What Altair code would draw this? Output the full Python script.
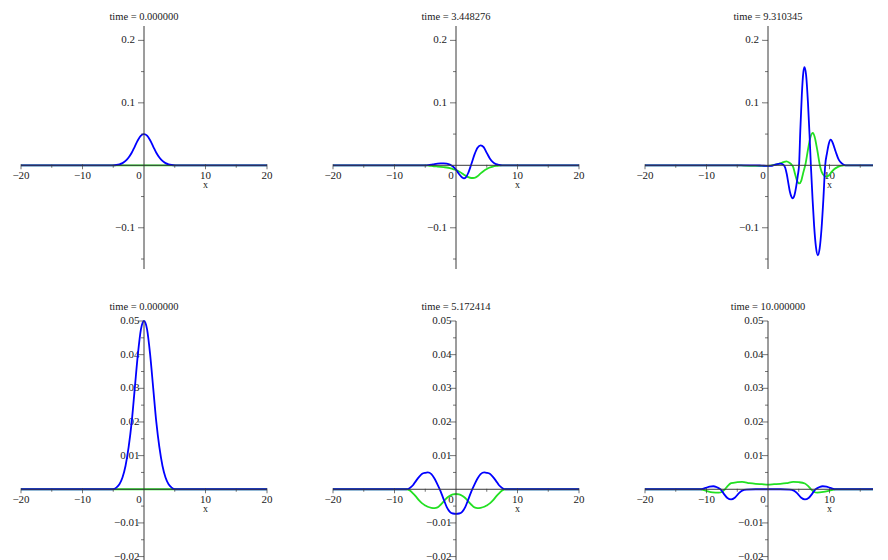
import altair as alt
import pandas as pd

FONT = "Liberation Serif"
BLUE = "#0000ff"
GREEN = "#22e022"
AXIS = "#3a3a3a"
TXT = "#1a1a1a"

titles = ["time = 0.000000", "time = 3.448276", "time = 9.310345",
          "time = 0.000000", "time = 5.172414", "time = 10.000000"]

# ---- t = 0 (panels 1 and 4)
p1_x = [-20, -5, -4.5, -4, -3.5, -3, -2.5, -2, -1.5, -1, -0.5, 0, 0.5, 1, 1.5, 2, 2.5, 3, 3.5, 4, 4.5, 5, 20]
p1_re = [0, 0, 0.0005, 0.0015, 0.0035, 0.007, 0.0125, 0.02, 0.03, 0.04, 0.0475, 0.05, 0.0475, 0.04, 0.03, 0.02, 0.0125, 0.007, 0.0035, 0.0015, 0.0005, 0, 0]
p1_im_x = [-20, 20]
p1_im = [0, 0]

# ---- t = 3.448276
p2_x = [-20, -5, -4.5, -4, -3.5, -3, -2.5, -2, -1.5, -1, -0.5, 0, 0.5, 1, 1.3, 1.6, 2, 2.5, 3, 3.5, 4, 4.5, 5, 5.5, 6, 6.5, 7, 7.5, 20]
p2_re = [0, 0, 0.0003, 0.001, 0.002, 0.0027, 0.003, 0.003, 0.0025, 0.001, -0.002, -0.007, -0.014, -0.0195, -0.021, -0.0195, -0.012, 0.002, 0.017, 0.028, 0.032, 0.029, 0.02, 0.011, 0.005, 0.0018, 0.0005, 0, 0]
p2_im = [0, 0, -0.0003, -0.0008, -0.0015, -0.002, -0.0025, -0.003, -0.0035, -0.0045, -0.006, -0.0075, -0.01, -0.013, -0.015, -0.0168, -0.019, -0.0203, -0.02, -0.0175, -0.013, -0.009, -0.006, -0.0035, -0.002, -0.001, -0.0003, 0, 0]

# ---- t = 9.310345
p3_re_x = [-20, -2, -1, 0, 0.5, 1, 1.5, 1.95, 2.5, 2.8, 3.05, 3.3, 3.55, 3.8, 4.0, 4.3, 4.6, 4.85, 5.05, 5.25,
           5.5, 5.75, 5.93, 6.2, 6.5, 6.75, 6.97, 7.25, 7.5, 7.8, 8.1, 8.4, 8.7, 9.0, 9.3, 9.6, 9.9, 10.2, 10.6, 11.0,
           11.5, 12.0, 12.6, 20]
p3_re = [0, 0, -0.0005, -0.001, -0.0008, 0.0005, 0.002, 0.0027, 0.001, -0.004, -0.014, -0.028, -0.042, -0.05, -0.053, -0.048, -0.033, -0.016, 0, 0.055,
         0.113, 0.149, 0.157, 0.144, 0.1, 0.05, 0, -0.055, -0.097, -0.131, -0.144, -0.133, -0.102, -0.055, 0, 0.02, 0.035, 0.041, 0.034, 0.022,
         0.009, 0.003, 0, 0]
p3_im_x = [-20, -5, -4, -2, 0, 1, 2, 2.5, 3.0, 3.5, 3.8, 4.1, 4.4, 4.7, 5.1, 5.4, 5.7, 6.1, 6.5, 6.9,
           7.3, 7.6, 8.0, 8.5, 8.9, 9.4, 9.8, 10.3, 10.8, 11.3, 11.8, 12.3, 20]
p3_im = [0, 0, -0.0005, -0.001, -0.001, 0.0005, 0.003, 0.005, 0.0064, 0.004, 0.0015, -0.003, -0.014, -0.024, -0.029, -0.025, -0.013, 0.002, 0.025, 0.045,
         0.052, 0.045, 0.025, -0.003, -0.014, -0.018, -0.017, -0.011, -0.006, -0.003, -0.001, 0, 0]

# ---- t = 5.172414
p5_x = [-20, -8, -7.5, -7, -6.5, -6, -5.5, -5, -4.6, -4, -3.5, -3, -2.5, -2, -1.5, -1, -0.5, 0, 0.5, 1,
        1.5, 2, 2.5, 3, 3.5, 4, 4.6, 5, 5.5, 6, 6.5, 7, 7.5, 8, 20]
p5_re = [0, 0, 0.0004, 0.0012, 0.0025, 0.0037, 0.0046, 0.0049, 0.005, 0.0045, 0.0032, 0.0014, -0.0006, -0.003, -0.0053, -0.0067, -0.0072, -0.0073, -0.0072, -0.0067,
         -0.0053, -0.003, -0.0006, 0.0014, 0.0032, 0.0045, 0.005, 0.0049, 0.0046, 0.0037, 0.0025, 0.0012, 0.0004, 0, 0]
p5_im = [0, 0, -0.0004, -0.0012, -0.0022, -0.0033, -0.0042, -0.0048, -0.0052, -0.0055, -0.0056, -0.0054, -0.0046, -0.0036, -0.0026, -0.0019, -0.0015, -0.0014, -0.0015, -0.0019,
         -0.0026, -0.0036, -0.0046, -0.0054, -0.0056, -0.0055, -0.0052, -0.0048, -0.0042, -0.0033, -0.0022, -0.0012, -0.0004, 0, 0]

# ---- t = 10
p6_re_x = [-20, -11, -10.5, -10, -9.5, -8.9, -8.3, -7.7, -7.2, -6.6, -6, -5.4, -4.8, -4.2, -3.5, -2, 0, 2, 3.5, 4.2,
           4.8, 5.4, 6, 6.6, 7.2, 7.7, 8.3, 8.9, 9.5, 10, 10.5, 11, 20]
p6_re = [0, 0, 0.0002, 0.0005, 0.0008, 0.0009, 0.0006, 0, -0.0013, -0.0026, -0.003, -0.0025, -0.0013, -0.0004, -0.0001, 0, 0, 0, -0.0001, -0.0004,
         -0.0013, -0.0025, -0.003, -0.0026, -0.0013, 0, 0.0006, 0.0009, 0.0008, 0.0005, 0.0002, 0, 0]
p6_im_x = [-20, -11, -10, -9, -8, -7.5, -7, -6.5, -6, -5, -4.2, -3, -2, -1, 0, 1, 2, 3, 4.1, 5,
           6, 6.5, 7, 7.5, 8, 9, 10, 11, 20]
p6_im = [0, 0, -0.0005, -0.0009, -0.001, -0.0008, 0, 0.0011, 0.0018, 0.0021, 0.0022, 0.0018, 0.0016, 0.0015, 0.0014, 0.0015, 0.0016, 0.0018, 0.0022, 0.0021,
         0.0017, 0.001, 0, -0.0008, -0.001, -0.0008, -0.0004, 0, 0]

# ---- axes
x_domain = [-20, 20]
x_major = [-20, -10, 10, 20]
x_major_labels = ["\u221220", "\u221210", "10", "20"]
x_minor = [-15, -5, 5, 15]

top_ydom = [-0.166, 0.223]
top_major = [-0.1, 0.1, 0.2]
top_labels = ["\u22120.1", "0.1", "0.2"]
top_minor = [-0.15, -0.05, 0.05, 0.15]

bot_ydom = [-0.0228, 0.05]
bot_major = [-0.02, -0.01, 0.01, 0.02, 0.03, 0.04, 0.05]
bot_labels = ["\u22120.02", "\u22120.01", "0.01", "0.02", "0.03", "0.04", "0.05"]
bot_minor = [-0.015, -0.005, 0.005, 0.015, 0.025, 0.035, 0.045]

PW = 246


def panel(title, re_x, re_y, im_x, im_y, ydom, ymaj, ylabs, ymin, ylab_dx, h):
    xsc = alt.Scale(domain=x_domain, nice=False, zero=False)
    ysc = alt.Scale(domain=ydom, nice=False, zero=False)
    X = alt.X("x:Q", scale=xsc, axis=None)
    Y = alt.Y("y:Q", scale=ysc, axis=None)

    re_df = pd.DataFrame({"x": re_x, "y": re_y})
    im_df = pd.DataFrame({"x": im_x, "y": im_y})
    xl_df = pd.DataFrame({"x": x_major, "t": x_major_labels}).assign(y=0.0)
    xmin_df = pd.DataFrame({"x": x_minor}).assign(y=0.0)
    yl_df = pd.DataFrame({"y": ymaj, "t": ylabs}).assign(x=0.0)
    ymin_df = pd.DataFrame({"y": ymin}).assign(x=0.0)
    org_df = pd.DataFrame({"x": [0.0], "y": [0.0], "t": ["0"]})
    xt_df = pd.DataFrame({"x": [10.0], "y": [0.0], "t": ["x"]})
    xax_df = pd.DataFrame({"x": [x_domain[0]], "x2": [x_domain[1]], "y": [0.0]})
    yax_df = pd.DataFrame({"x": [0.0], "y": [ydom[0]], "y2": [ydom[1]]})

    txt = dict(font=FONT, fontSize=11, color=TXT)
    layers = [
        alt.Chart(yl_df).mark_text(align="right", baseline="middle", dx=ylab_dx, **txt).encode(x=X, y=Y, text="t:N"),
        alt.Chart(xl_df).mark_text(align="center", baseline="middle", dy=10.5, **txt).encode(x=X, y=Y, text="t:N"),
        alt.Chart(org_df).mark_text(align="center", baseline="middle", dy=10.5, dx=-5, **txt).encode(x=X, y=Y, text="t:N"),
        alt.Chart(xt_df).mark_text(align="center", baseline="middle", dy=20, font=FONT, fontSize=10, color=TXT).encode(x=X, y=Y, text="t:N"),
        alt.Chart(im_df).mark_line(color=GREEN, strokeWidth=1.8, interpolate="monotone").encode(x=X, y=Y),
        alt.Chart(re_df).mark_line(color=BLUE, strokeWidth=1.8, interpolate="monotone").encode(x=X, y=Y),
        alt.Chart(xax_df).mark_rule(color=AXIS, strokeWidth=1).encode(x=X, x2="x2:Q", y=Y),
        alt.Chart(yax_df).mark_rule(color=AXIS, strokeWidth=1).encode(x=X, y=Y, y2="y2:Q"),
        alt.Chart(xl_df).mark_tick(orient="vertical", size=5, thickness=1, yOffset=1.5, color=AXIS).encode(x=X, y=Y),
        alt.Chart(xmin_df).mark_tick(orient="vertical", size=3, thickness=1, yOffset=1, color=AXIS).encode(x=X, y=Y),
        alt.Chart(yl_df).mark_tick(orient="horizontal", size=6, thickness=1, xOffset=-3, color=AXIS).encode(x=X, y=Y),
        alt.Chart(ymin_df).mark_tick(orient="horizontal", size=3, thickness=1, xOffset=-1.5, color=AXIS).encode(x=X, y=Y),
    ]
    return alt.layer(*layers).properties(
        width=PW, height=h,
        title=alt.TitleParams(text=title, font=FONT, fontSize=10.5, fontWeight="normal",
                              color=TXT, anchor="middle", offset=3),
    )


top_args = (top_ydom, top_major, top_labels, top_minor, -9, 243)
bot_args = (bot_ydom, bot_major, bot_labels, bot_minor, -4.5, 245)

c1 = panel(titles[0], p1_x, p1_re, p1_im_x, p1_im, *top_args)
c2 = panel(titles[1], p2_x, p2_re, p2_x, p2_im, *top_args)
c3 = panel(titles[2], p3_re_x, p3_re, p3_im_x, p3_im, *top_args)
c4 = panel(titles[3], p1_x, p1_re, p1_im_x, p1_im, *bot_args)
c5 = panel(titles[4], p5_x, p5_re, p5_x, p5_im, *bot_args)
c6 = panel(titles[5], p6_re_x, p6_re, p6_im_x, p6_im, *bot_args)

chart = alt.concat(
    c1, c2, c3, c4, c5, c6, columns=3,
    spacing=alt.RowColnumber(row=52, column=66), bounds="flush",
).configure_view(stroke=None).properties(
    padding={"left": 4, "top": 4, "right": -24, "bottom": 0},
    background="white",
)

chart.save("out.html", embed_options={"renderer": "svg", "actions": False})
